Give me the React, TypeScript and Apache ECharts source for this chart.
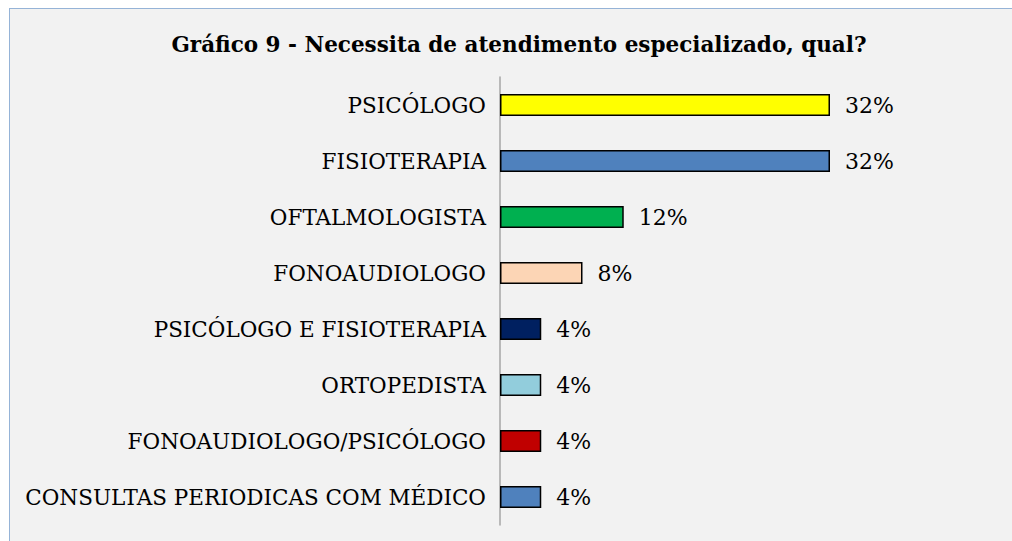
import React, { useEffect, useRef } from "react";
import * as echarts from "echarts";

const categories = [
  "PSICÓLOGO",
  "FISIOTERAPIA",
  "OFTALMOLOGISTA",
  "FONOAUDIOLOGO",
  "PSICÓLOGO E FISIOTERAPIA",
  "ORTOPEDISTA",
  "FONOAUDIOLOGO/PSICÓLOGO",
  "CONSULTAS PERIODICAS COM MÉDICO",
];
const values = [32, 32, 12, 8, 4, 4, 4, 4];
const barColors = [
  "#ffff00",
  "#4f81bd",
  "#00b050",
  "#fcd5b5",
  "#002060",
  "#92cddc",
  "#c00000",
  "#4f81bd",
];
const title = "Gráfico 9 - Necessita de atendimento especializado, qual?";

export default function App() {
  const ref = useRef<HTMLDivElement>(null);
  useEffect(() => {
    if (!ref.current) return;
    const chart = echarts.init(ref.current, undefined, { renderer: "svg" });
    const font = "'DejaVu Serif', serif";
    chart.setOption({
      animation: false,
      graphic: [
        {
          type: "text",
          x: 509,
          y: 35,
          style: {
            text: title,
            textAlign: "center",
            textVerticalAlign: "middle",
            font: `bold 21.5px ${font}`,
            fill: "#000",
          },
        },
      ],
      grid: { left: 490, top: 68, width: 412.5, height: 448, containLabel: false },
      xAxis: {
        type: "value",
        min: 0,
        max: 40,
        show: false,
      },
      yAxis: {
        type: "category",
        data: categories,
        inverse: true,
        axisLine: { show: true, lineStyle: { color: "#a6a6a6", width: 1.5 } },
        axisTick: { show: false },
        axisLabel: {
          margin: 14,
          color: "#000",
          fontFamily: font,
          fontSize: 21.5,
        },
      },
      series: [
        {
          type: "bar",
          data: values.map((v, i) => ({
            value: v,
            itemStyle: { color: barColors[i] },
          })),
          barWidth: 22,
          itemStyle: { borderColor: "#000", borderWidth: 1.5 },
          label: {
            show: true,
            position: "right",
            distance: 15,
            formatter: "{c}%",
            color: "#000",
            fontFamily: font,
            fontSize: 22,
          },
        },
      ],
    });
    return () => chart.dispose();
  }, []);
  return (
    <div
      style={{
        position: "fixed",
        left: 8,
        top: 8,
        width: 1004,
        height: 533,
        boxSizing: "border-box",
        borderLeft: "1px solid #95b3d7",
        borderTop: "1px solid #95b3d7",
        background: "#f2f2f2",
        marginLeft: 1,
      }}
    >
      <div ref={ref} style={{ width: 1003, height: 532 }} />
    </div>
  );
}
